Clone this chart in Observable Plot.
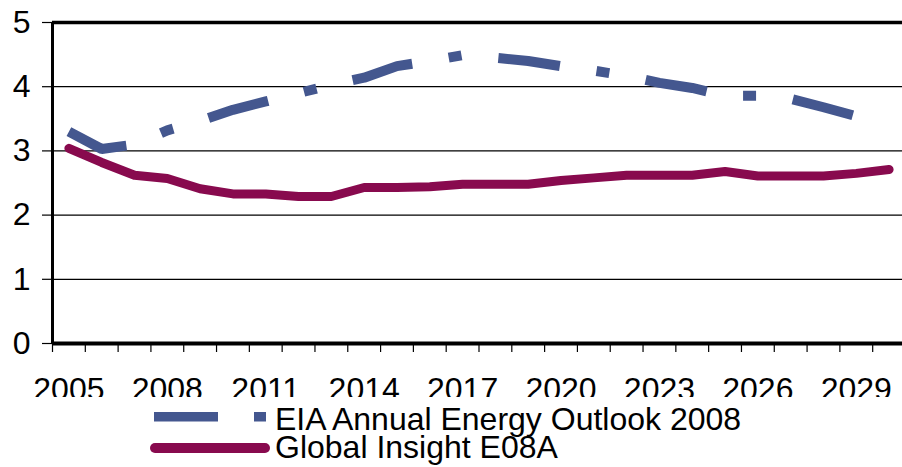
<!DOCTYPE html>
<html>
<head>
<meta charset="utf-8">
<script src="https://cdn.jsdelivr.net/npm/d3@7"></script>
<script src="https://cdn.jsdelivr.net/npm/@observablehq/plot@0.6"></script>
<style>
  html, body { margin: 0; padding: 0; background: #fff; overflow: hidden; }
  #wrap { position: relative; width: 902px; height: 467px; overflow: hidden; }
  #legend { position: absolute; left: 0; top: 0; }
</style>
</head>
<body>
<div id="wrap"></div>
<script>
const years = [2005, 2006, 2007, 2008, 2009, 2010, 2011, 2012, 2013, 2014, 2015, 2016, 2017,
               2018, 2019, 2020, 2021, 2022, 2023, 2024, 2025, 2026, 2027, 2028, 2029, 2030];
const eiaValues = [3.30, 3.03, 3.10, 3.32, 3.47, 3.64, 3.77, 3.90, 4.03, 4.14, 4.32, 4.40, 4.49,
                   4.45, 4.40, 4.32, 4.25, 4.17, 4.06, 3.98, 3.86, 3.86, 3.81, 3.68, 3.54, 3.49];
const giValues = [3.04, 2.82, 2.62, 2.57, 2.41, 2.33, 2.33, 2.29, 2.29, 2.43, 2.43, 2.44, 2.48,
                  2.48, 2.48, 2.54, 2.58, 2.62, 2.62, 2.62, 2.68, 2.61, 2.61, 2.61, 2.65, 2.71];
const xTickLabels = [2005, 2008, 2011, 2014, 2017, 2020, 2023, 2026, 2029];
const yTicks = [0, 1, 2, 3, 4, 5];
const seriesNames = ["EIA Annual Energy Outlook 2008", "Global Insight E08A"];
const colors = ["#44578f", "#880a4e"];

const eia = years.map((y, i) => ({year: y, value: eiaValues[i]}));
const gi = years.map((y, i) => ({year: y, value: giValues[i]}));
const boundaries = years.map(y => y - 0.5).concat([years[years.length - 1] + 0.5]);

const font = "'Liberation Sans', Arial, sans-serif";

const chart = Plot.plot({
  width: 905,
  height: 397,
  marginLeft: 52,
  marginRight: 0,
  marginTop: 22,
  marginBottom: 54,
  style: {fontSize: "32px", fontFamily: font, color: "#000", background: "#fff", maxWidth: "none", overflow: "hidden"},
  x: {type: "linear", domain: [years[0] - 0.5, years[years.length - 1] + 0.5]},
  y: {domain: [0, 5]},
  marks: [
    Plot.ruleY([1, 2, 3, 4], {stroke: "#000", strokeWidth: 1.3}),
    Plot.ruleY([5], {stroke: "#000", strokeWidth: 3.5}),
    Plot.axisY({ticks: yTicks, tickSize: 10, tickPadding: 12, tickFormat: d => String(d), label: null, stroke: "#000", strokeWidth: 1.2}),
    Plot.axisX({ticks: boundaries, tickSize: 9, tickFormat: () => "", label: null, stroke: "#000", strokeWidth: 1.2}),
    Plot.axisX({ticks: xTickLabels, tickSize: 0, tickPadding: 34, tickFormat: d => String(d), label: null}),
    Plot.line(gi, {x: "year", y: "value", stroke: colors[1], strokeWidth: 9, strokeLinecap: "round", strokeLinejoin: "round"}),
    Plot.line(eia, {x: "year", y: "value", stroke: colors[0], strokeWidth: 10, strokeDasharray: "62,37,13,37", strokeLinecap: "butt", strokeLinejoin: "bevel"}),
    Plot.ruleY([0], {stroke: "#000", strokeWidth: 4}),
    Plot.ruleX([years[0] - 0.5], {stroke: "#000", strokeWidth: 3, y1: 0, y2: 5})
  ]
});
chart.style.position = "absolute";
chart.style.left = "0px";
chart.style.top = "0px";
document.getElementById("wrap").appendChild(chart);

// Legend
const ns = "http://www.w3.org/2000/svg";
const leg = document.createElementNS(ns, "svg");
leg.setAttribute("id", "legend");
leg.setAttribute("width", 902);
leg.setAttribute("height", 467);
leg.style.pointerEvents = "none";
function el(tag, attrs, text) {
  const e = document.createElementNS(ns, tag);
  for (const k in attrs) e.setAttribute(k, attrs[k]);
  if (text != null) e.textContent = text;
  leg.appendChild(e);
  return e;
}
el("rect", {x: 154, y: 412, width: 64, height: 9.5, fill: colors[0]});
el("rect", {x: 254, y: 412, width: 12, height: 9.5, fill: colors[0]});
el("text", {x: 275, y: 430, "font-family": font, "font-size": 32, fill: "#000"}, seriesNames[0]);
el("line", {x1: 155, y1: 448, x2: 265, y2: 448, stroke: colors[1], "stroke-width": 10, "stroke-linecap": "round"});
el("text", {x: 275, y: 458, "font-family": font, "font-size": 32, fill: "#000"}, seriesNames[1]);
document.getElementById("wrap").appendChild(leg);
</script>
</body>
</html>
